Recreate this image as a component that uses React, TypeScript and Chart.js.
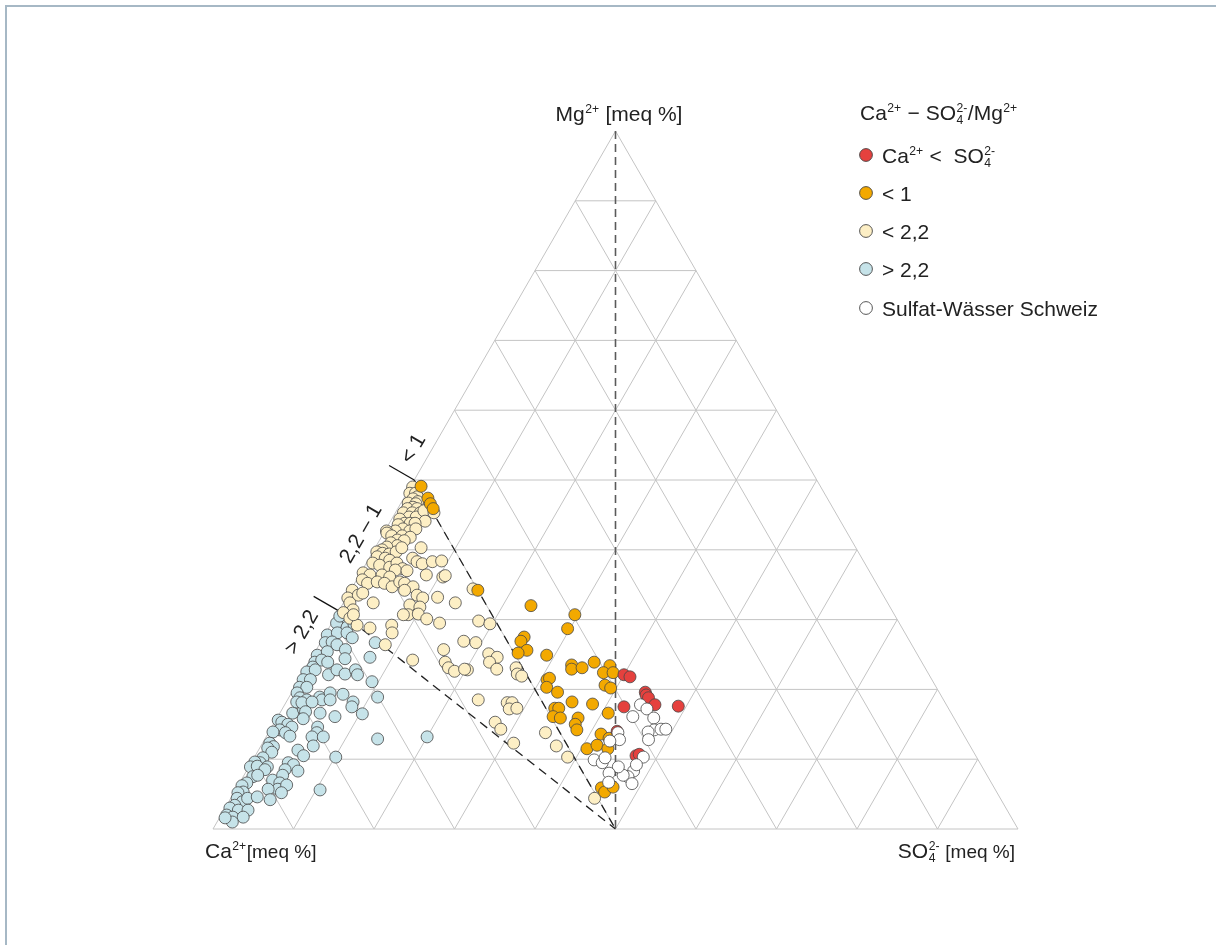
import React, { useEffect, useRef } from "react";
import { Chart, registerables } from "chart.js";

Chart.register(...registerables);

// Each sample: [Mg²⁺ meq %, SO4²⁻ meq %]  (Ca²⁺ meq % = 100 − Mg − SO4)
const caLtSo4: [number, number][] = [
  [22.1, 40.0], [21.8, 40.9], [19.6, 43.9], [19.2, 44.2], [18.8, 44.7], [17.8, 46.0],
  [17.6, 49.0], [17.5, 42.3], [14.0, 43.2], [10.5, 47.3], [10.7, 47.6],
];

const ratioLt1: [number, number][] = [
  [49.1, 1.3], [47.4, 3.0], [46.6, 3.7], [45.9, 4.4], [34.2, 15.8], [32.0, 23.5], [30.7, 29.6],
  [28.7, 29.7], [27.5, 24.9], [26.9, 24.8], [25.6, 26.2], [25.2, 25.3], [24.9, 29.0], [23.5, 32.8],
  [22.9, 33.1], [23.1, 34.3], [23.9, 35.4], [23.4, 37.6], [22.4, 37.3], [22.4, 38.5], [21.4, 30.8],
  [21.6, 31.0], [20.3, 31.3], [19.6, 33.0], [20.6, 38.4], [20.2, 39.3], [18.2, 35.5], [17.9, 38.2],
  [17.3, 33.8], [17.3, 34.3], [16.1, 34.2], [15.9, 35.2], [15.9, 37.4], [15.0, 37.5], [14.2, 38.1],
  [16.6, 40.8], [13.6, 41.4], [13.0, 42.7], [11.5, 40.7], [12.0, 41.7], [11.5, 43.3], [5.9, 45.3],
  [5.3, 46.0], [6.0, 46.7],
];

const ratioLt22: [number, number][] = [
  [49.0, 0.3], [48.1, 0.4], [48.1, 1.1], [47.6, 1.6], [47.3, 1.2], [46.7, 0.9], [46.9, 2.0], [46.6, 1.9],
  [46.1, 1.8], [45.9, 1.2], [45.9, 2.4], [45.3, 1.0], [45.3, 2.1], [45.3, 3.1], [44.7, 2.0], [44.7, 2.9],
  [45.6, 3.4], [44.1, 4.3], [45.3, 4.8], [44.4, 1.0], [43.8, 1.9], [43.6, 1.2], [43.8, 2.6], [43.8, 3.2],
  [43.0, 2.1], [42.7, 1.3], [42.7, 3.1], [43.0, 3.7], [42.7, 0.2], [42.4, 0.4], [42.0, 1.2], [42.0, 2.5],
  [41.8, 3.6], [41.4, 2.2], [41.3, 3.1], [41.0, 1.6], [40.6, 2.6], [40.4, 1.4], [40.0, 1.0], [39.7, 0.5],
  [39.5, 1.3], [39.4, 2.2], [39.7, 2.9], [40.3, 3.3], [40.3, 5.7], [38.8, 5.4], [38.3, 6.2], [38.0, 7.0],
  [38.3, 8.1], [38.4, 9.2], [39.0, 0.9], [38.8, 2.0], [38.5, 2.7], [38.1, 0.8], [37.8, 1.8], [37.5, 3.2],
  [38.1, 3.8], [37.3, 4.9], [37.1, 4.1], [37.0, 5.6], [36.4, 8.3], [36.1, 10.5], [36.3, 10.7], [36.7, 0.3],
  [36.4, 1.3], [36.4, 2.8], [36.1, 3.9], [35.7, 0.7], [35.2, 1.6], [35.4, 2.7], [35.2, 3.7], [34.7, 4.9],
  [35.4, 5.5], [35.2, 6.2], [34.7, 7.5], [34.2, 6.7], [34.2, 0.2], [33.5, 8.6], [33.1, 9.5], [33.2, 11.3],
  [32.4, 13.9], [33.1, 0.2], [33.5, 1.3], [33.8, 1.7], [32.4, 3.7], [32.4, 0.8], [31.4, 1.7], [32.1, 8.4],
  [31.8, 9.8], [31.0, 0.7], [30.2, 1.9], [29.2, 3.3], [30.7, 8.9], [30.7, 8.3], [30.8, 10.1], [30.1, 11.5],
  [29.5, 13.4], [29.8, 18.1], [29.4, 19.7], [28.8, 5.1], [29.2, 7.6], [28.1, 8.2], [26.4, 8.2], [24.2, 12.7],
  [30.7, 2.1], [26.9, 17.7], [26.7, 19.3], [25.7, 15.8], [23.9, 16.9], [23.1, 17.7], [22.6, 18.7], [22.8, 20.2],
  [18.5, 23.7], [34.4, 15.1], [25.1, 21.7], [24.6, 23.0], [23.9, 22.4], [22.9, 23.8], [22.9, 19.8], [23.1, 26.1],
  [22.2, 26.7], [21.9, 27.4], [18.1, 27.5], [18.1, 28.1], [17.2, 28.2], [17.3, 29.1], [15.3, 27.4], [14.3, 28.6],
  [12.3, 31.2], [13.8, 34.4], [11.9, 36.7], [10.3, 38.9], [4.4, 45.2],
];

const ratioGt22: [number, number][] = [
  [29.9, 1.2], [29.5, 0.6], [28.9, 2.2], [29.4, 2.8], [27.8, 0.3], [28.1, 1.4], [28.1, 2.6], [27.4, 3.6],
  [26.7, 0.6], [26.8, 1.4], [26.4, 2.2], [24.9, 0.5], [25.4, 1.5], [25.7, 3.6], [23.9, 0.7], [24.2, 1.4],
  [23.9, 2.3], [24.4, 4.2], [23.2, 0.8], [22.5, 0.4], [22.8, 1.3], [22.1, 3.3], [22.8, 4.0], [22.2, 5.3],
  [22.8, 6.3], [22.1, 6.9], [21.4, 0.5], [21.4, 1.4], [20.3, 0.6], [20.3, 1.5], [19.5, 0.7], [18.8, 1.4],
  [18.5, 2.4], [18.9, 3.8], [18.5, 4.3], [19.5, 4.8], [18.5, 5.3], [19.3, 6.5], [18.2, 8.3], [17.5, 8.5],
  [16.5, 10.3], [16.6, 1.6], [17.1, 2.7], [16.6, 5.0], [16.1, 7.1], [24.6, 7.2], [26.7, 6.8], [21.1, 9.2],
  [18.9, 11.0], [18.2, 1.3], [18.1, 2.0], [18.2, 3.2], [16.8, 3.1], [15.8, 3.3], [15.6, 0.3], [15.3, 0.9],
  [15.0, 1.8], [14.6, 2.5], [14.2, 1.2], [13.9, 0.5], [13.8, 2.1], [13.3, 2.9], [14.6, 5.7], [13.8, 6.0],
  [13.2, 5.7], [13.2, 7.1], [12.3, 0.9], [11.8, 1.6], [11.6, 1.0], [11.0, 1.8], [11.9, 6.5], [11.3, 4.9],
  [10.5, 6.0], [10.3, 10.1], [12.9, 14.0], [13.2, 20.0], [10.2, 1.1], [9.5, 1.1], [9.6, 0.4], [8.9, 0.2],
  [9.0, 1.0], [8.9, 2.3], [8.5, 2.2], [9.5, 4.6], [9.2, 5.4], [8.5, 4.7], [8.3, 6.4], [7.5, 1.2],
  [7.7, 1.7], [7.0, 3.9], [7.7, 4.8], [6.6, 5.0], [5.7, 5.2], [6.3, 6.0], [5.2, 5.9], [5.7, 4.0],
  [4.2, 5.0], [6.6, 0.9], [6.2, 0.5], [5.3, 1.1], [5.2, 0.5], [4.4, 0.8], [3.9, 1.7], [4.4, 2.1],
  [4.6, 3.2], [3.4, 1.0], [3.0, 0.6], [2.7, 1.8], [2.7, 3.0], [2.0, 0.7], [1.7, 1.6], [1.7, 2.9],
  [1.0, 1.9], [1.6, 0.7], [5.6, 10.5], [30.5, 0.5],
];

const sulfatSchweiz: [number, number][] = [
  [17.8, 44.2], [17.2, 45.3], [16.1, 44.1], [15.9, 46.8], [14.2, 47.7], [13.9, 47.1], [14.3, 48.5],
  [14.3, 49.1], [12.8, 47.7], [13.8, 43.4], [12.8, 44.1], [12.6, 43.0], [9.9, 42.4], [9.5, 43.6],
  [10.2, 43.6], [10.3, 48.3], [8.3, 48.1], [7.5, 47.8], [7.7, 47.1], [6.5, 48.8], [8.9, 45.9],
  [8.0, 45.2], [6.7, 45.8], [9.2, 48.0],
];

// Grid steps (meq %) and (Ca − SO4)/Mg class boundaries
const gridSteps = [10, 20, 30, 40, 50, 60, 70, 80, 90];
const ratioBoundaries = [1, 2.2];
const boundaryLabels = ["< 1", "2,2 \u2013 1", "> 2,2"];

const legendTexts = ["< 1", "< 2,2", "> 2,2", "Sulfat-W\u00e4sser Schweiz"];

const COLORS = {
  red: "#e5413e",
  orange: "#f3a900",
  cream: "#fdefc5",
  blue: "#c6e3e9",
  white: "#ffffff",
};

const H = Math.sqrt(3) / 2;
const toXY = ([mg, so4]: [number, number]) => ({ x: so4 + mg / 2, y: mg * H });

const FONT = '"Liberation Sans", Arial, Helvetica, sans-serif';
const TEXT = "#222222";

type Part = { t: string; sup?: boolean; sub?: string; s?: number };

function drawRich(
  ctx: CanvasRenderingContext2D,
  parts: Part[],
  x: number,
  y: number,
  size: number,
  align: "left" | "center" | "right"
) {
  const widths = parts.map((p) => {
    const sz = p.s ?? size;
    if (!p.sup) {
      ctx.font = `${sz}px ${FONT}`;
      return ctx.measureText(p.t).width;
    }
    ctx.font = `${sz * 0.58}px ${FONT}`;
    const w1 = ctx.measureText(p.t).width;
    const w2 = p.sub ? ctx.measureText(p.sub).width : 0;
    return Math.max(w1, w2) + 1;
  });
  const total = widths.reduce((a, b) => a + b, 0);
  let cx = align === "left" ? x : align === "center" ? x - total / 2 : x - total;
  ctx.textAlign = "left";
  ctx.textBaseline = "alphabetic";
  parts.forEach((p, i) => {
    const sz = p.s ?? size;
    if (!p.sup) {
      ctx.font = `${sz}px ${FONT}`;
      ctx.fillText(p.t, cx, y);
    } else {
      ctx.font = `${sz * 0.58}px ${FONT}`;
      ctx.fillText(p.t, cx + 0.5, y - sz * 0.36);
      if (p.sub) ctx.fillText(p.sub, cx + 0.5, y + sz * 0.2);
    }
    cx += widths[i];
  });
}

export default function App() {
  const ref = useRef<HTMLCanvasElement | null>(null);

  useEffect(() => {
    if (!ref.current) return;

    const gridPlugin = {
      id: "ternaryGrid",
      beforeDatasetsDraw(chart: any) {
        const ctx: CanvasRenderingContext2D = chart.ctx;
        const xs = chart.scales.x;
        const ys = chart.scales.y;
        const P = (mg: number, so4: number) => ({
          x: xs.getPixelForValue(so4 + mg / 2),
          y: ys.getPixelForValue(mg * H),
        });
        const line = (a: { x: number; y: number }, b: { x: number; y: number }) => {
          ctx.beginPath();
          ctx.moveTo(a.x, a.y);
          ctx.lineTo(b.x, b.y);
          ctx.stroke();
        };
        ctx.save();
        ctx.strokeStyle = "#c4c4c4";
        ctx.lineWidth = 1;
        gridSteps.forEach((k) => {
          line(P(k, 0), P(k, 100 - k)); // Mg = k
          line(P(0, k), P(100 - k, k)); // SO4 = k
          line(P(0, 100 - k), P(100 - k, 0)); // Ca = k
        });
        ctx.beginPath();
        const a = P(0, 0), b = P(0, 100), c = P(100, 0);
        ctx.moveTo(a.x, a.y);
        ctx.lineTo(b.x, b.y);
        ctx.lineTo(c.x, c.y);
        ctx.closePath();
        ctx.stroke();

        // Ca = SO4 line
        ctx.setLineDash([8, 5]);
        ctx.strokeStyle = "#5a5a5a";
        ctx.lineWidth = 1.6;
        line(P(100, 0), P(0, 50));

        // (Ca − SO4)/Mg boundaries
        ctx.strokeStyle = "#222";
        ctx.lineWidth = 1.3;
        ctx.setLineDash([9, 6]);
        ratioBoundaries.forEach((r) => {
          line(P(100 / (1 + r), 0), P(0, 50));
        });
        ctx.setLineDash([]);

        // ticks outside the Ca–Mg edge
        const nx = -Math.cos(Math.PI / 6), ny = -Math.sin(Math.PI / 6);
        ctx.strokeStyle = "#111";
        ctx.lineWidth = 1.2;
        ratioBoundaries.forEach((r) => {
          const p = P(100 / (1 + r), 0);
          line(p, { x: p.x + nx * 29, y: p.y + ny * 29 });
        });

        // boundary labels
        const m1 = 100 / (1 + ratioBoundaries[0]);
        const m2 = 100 / (1 + ratioBoundaries[1]);
        const labelAt = [
          { mg: m1 + 3.3, off: 16 },
          { mg: (m1 + m2) / 2 + 0.3, off: 19 },
          { mg: m2 - 4.6, off: 21 },
        ];
        ctx.fillStyle = TEXT;
        ctx.font = `21px ${FONT}`;
        ctx.textAlign = "center";
        ctx.textBaseline = "middle";
        labelAt.forEach((l, i) => {
          const p = P(l.mg, 0);
          ctx.save();
          ctx.translate(p.x + nx * l.off, p.y + ny * l.off);
          ctx.rotate(-Math.PI / 3);
          ctx.fillText(boundaryLabels[i], 0, 0);
          ctx.restore();
        });
        ctx.restore();
      },
      afterDraw(chart: any) {
        const ctx: CanvasRenderingContext2D = chart.ctx;
        ctx.save();
        ctx.fillStyle = TEXT;
        // axis titles
        drawRich(ctx, [{ t: "Mg" }, { t: "2+", sup: true }, { t: " [meq %]" }], 619, 121, 21, "center");
        drawRich(ctx, [{ t: "Ca" }, { t: "2+", sup: true }, { t: "[meq %]", s: 19 }], 205, 858, 21, "left");
        drawRich(ctx, [{ t: "SO" }, { t: "2-", sup: true, sub: "4" }, { t: " [meq %]", s: 19 }], 1015, 858, 21, "right");

        // legend
        drawRich(
          ctx,
          [{ t: "Ca" }, { t: "2+", sup: true }, { t: " \u2212 SO" }, { t: "2-", sup: true, sub: "4" }, { t: "/Mg" }, { t: "2+", sup: true }],
          860, 120, 21, "left"
        );
        const items = [COLORS.red, COLORS.orange, COLORS.cream, COLORS.blue, COLORS.white];
        const ys = [155, 193, 231, 269, 308];
        items.forEach((col, i) => {
          ctx.beginPath();
          ctx.arc(866, ys[i], 6.4, 0, Math.PI * 2);
          ctx.fillStyle = col;
          ctx.fill();
          ctx.lineWidth = 0.9;
          ctx.strokeStyle = "#444";
          ctx.stroke();
          ctx.fillStyle = TEXT;
          if (i === 0) {
            drawRich(
              ctx,
              [{ t: "Ca" }, { t: "2+", sup: true }, { t: " <  SO" }, { t: "2-", sup: true, sub: "4" }],
              882, ys[i] + 7.5, 21, "left"
            );
          } else {
            drawRich(ctx, [{ t: legendTexts[i - 1] }], 882, ys[i] + 7.5, 21, "left");
          }
        });
        ctx.restore();
      },
    };

    const mk = (label: string, pts: [number, number][], color: string, order: number) => ({
      label,
      data: pts.map(toXY),
      backgroundColor: color,
      borderColor: "#474747",
      borderWidth: 0.8,
      pointRadius: 6,
      pointHoverRadius: 6,
      order,
      clip: false as any,
    });

    const chart = new Chart(ref.current, {
      type: "scatter",
      data: {
        datasets: [
          mk("Sulfat-Wässer Schweiz", sulfatSchweiz, COLORS.white, 0),
          mk("Ca < SO4", caLtSo4, COLORS.red, 1),
          mk("< 1", ratioLt1, COLORS.orange, 2),
          mk("< 2,2", ratioLt22, COLORS.cream, 3),
          mk("> 2,2", ratioGt22, COLORS.blue, 4),
        ] as any,
      },
      options: {
        animation: false,
        responsive: false,
        events: [],
        layout: { padding: { left: 213, right: 198, top: 131, bottom: 116 } },
        scales: {
          x: { type: "linear", min: 0, max: 100, display: false },
          y: { type: "linear", min: 0, max: 100 * H, display: false },
        },
        plugins: { legend: { display: false }, tooltip: { enabled: false } },
      },
      plugins: [gridPlugin],
    });
    return () => chart.destroy();
  }, []);

  return (
    <div
      style={{
        position: "fixed",
        left: 0,
        top: 0,
        width: 1216,
        height: 945,
        overflow: "hidden",
        background: "#ffffff",
      }}
    >
      <div
        style={{
          position: "absolute",
          left: 5,
          top: 5,
          width: 1300,
          height: 1100,
          borderLeft: "2px solid #a6b8c5",
          borderTop: "2px solid #a6b8c5",
        }}
      />
      <canvas
        ref={ref}
        width={1216}
        height={945}
        style={{ position: "absolute", left: 0, top: 0, width: 1216, height: 945 }}
      />
    </div>
  );
}
